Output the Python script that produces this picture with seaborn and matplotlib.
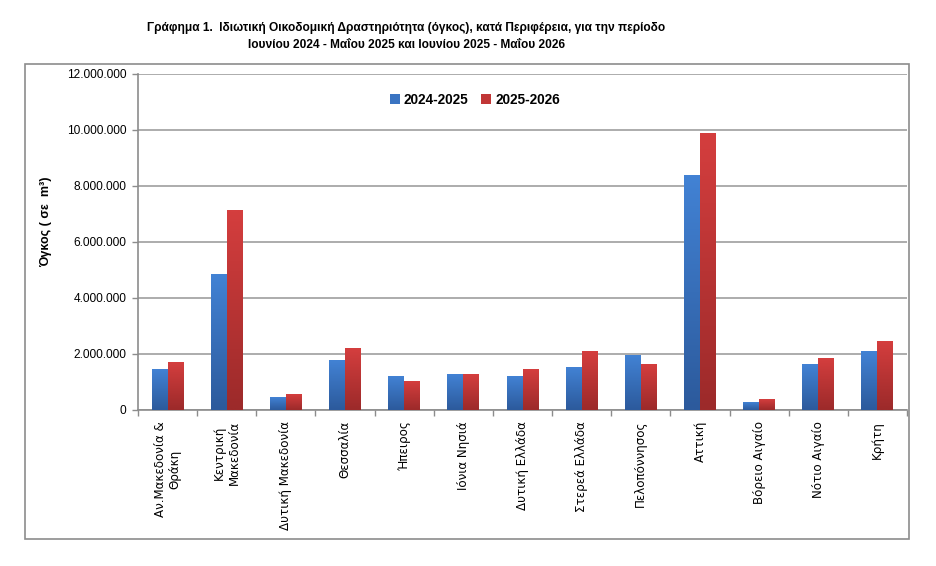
import numpy as np
import pandas as pd
import matplotlib
matplotlib.use("Agg")
import matplotlib.pyplot as plt
from matplotlib.ticker import FuncFormatter, FixedLocator
from matplotlib.patches import Rectangle, Patch
import seaborn as sns

regions = ["Αν.Μακεδονία &\nΘράκη", "Κεντρική\nΜακεδονία", "Δυτική Μακεδονία", "Θεσσαλία",
           "Ήπειρος", "Ιόνια Νησιά", "Δυτική Ελλάδα", "Στερεά Ελλάδα", "Πελοπόννησος",
           "Αττική", "Βόρειο Αιγαίο", "Νότιο Αιγαίο", "Κρήτη"]
vol_2024_2025 = [1460000, 4850000, 430000, 1780000, 1210000, 1280000, 1180000,
                 1530000, 1960000, 8350000, 250000, 1610000, 2100000]
vol_2025_2026 = [1710000, 7130000, 570000, 2180000, 1000000, 1280000, 1460000,
                 2070000, 1640000, 9850000, 390000, 1820000, 2460000]
periods = ["2024-2025", "2025-2026"]
yticks = [0, 2000000, 4000000, 6000000, 8000000, 10000000, 12000000]

title = ("Γράφημα 1.  Ιδιωτική Οικοδομική Δραστηριότητα (όγκος), κατά Περιφέρεια, για την περίοδο\n"
         "Ιουνίου 2024 - Μαΐου 2025 και Ιουνίου 2025 - Μαΐου 2026")
ylabel = "Όγκος ( σε  m³)"

df = pd.DataFrame({
    "region": regions * 2,
    "period": [periods[0]] * len(regions) + [periods[1]] * len(regions),
    "value": vol_2024_2025 + vol_2025_2026,
})

sns.set_theme(style="white")
plt.rcParams["font.family"] = ["Liberation Sans", "DejaVu Sans"]
plt.rcParams["text.color"] = "black"
plt.rcParams["xtick.color"] = "black"
plt.rcParams["ytick.color"] = "black"

W, H = 936, 566
fig = plt.figure(figsize=(W / 100, H / 100), dpi=100)
L, R, T, B = 138, 907, 73.7, 410
ax = fig.add_axes([L / W, 1 - B / H, (R - L) / W, (B - T) / H])

blue_top, blue_bot = np.array([0x42, 0x82, 0xd4]) / 255, np.array([0x2c, 0x5a, 0x9c]) / 255
red_top, red_bot = np.array([0xd4, 0x3e, 0x3e]) / 255, np.array([0x9c, 0x2a, 0x2a]) / 255

sns.barplot(data=df, x="region", y="value", hue="period", palette=["#3a74c2", "#c13636"],
            width=0.54, saturation=1, legend=False, ax=ax, zorder=2)

# gradient fill on each bar
for p in list(ax.patches):
    fc = p.get_facecolor()
    if fc[0] < 0.5:
        top, bot = blue_top, blue_bot
    else:
        top, bot = red_top, red_bot
    x0, y0 = p.get_x(), p.get_y()
    w, h = p.get_width(), p.get_height()
    if h <= 0:
        continue
    grad = np.linspace(0, 1, 64)[:, None]
    img = top[None, None, :] * (1 - grad[:, :, None]) + bot[None, None, :] * grad[:, :, None]
    ax.imshow(img, extent=(x0, x0 + w, y0, y0 + h), aspect="auto", zorder=3,
              interpolation="bilinear", origin="upper")
    p.set_edgecolor("none")

n = len(regions)
ax.set_xlim(-0.5, n - 0.5)
ax.set_ylim(0, 12000000)
ax.set_yticks(yticks)
ax.yaxis.set_major_formatter(FuncFormatter(lambda v, _: f"{int(v):,}".replace(",", ".")))
ax.grid(axis="y", color="#a6a6a6", linewidth=1.3, zorder=0)
ax.set_axisbelow(True)

ax.set_xlabel("")
ax.set_ylabel("")
ax.set_xticks(range(n))
ax.set_xticklabels(regions, rotation=90, fontsize=8.6, va="top", ha="center",
                   multialignment="center", family=["DejaVu Sans"], color="black")
ax.xaxis.set_minor_locator(FixedLocator(np.arange(-0.5, n, 1.0)))
ax.tick_params(axis="x", which="major", length=0, pad=8)
ax.tick_params(axis="x", which="minor", length=4, width=1, color="#8c8c8c", bottom=True)
ax.tick_params(axis="y", which="major", length=4, width=1, color="#8c8c8c", left=True,
               labelsize=8.6, pad=4.5, labelcolor="black")

for s in ["top", "right"]:
    ax.spines[s].set_visible(False)
for s in ["left", "bottom"]:
    ax.spines[s].set_color("#8c8c8c")
    ax.spines[s].set_linewidth(1.2)

# legend
handles = [Patch(facecolor="#3a74c2", edgecolor="none"), Patch(facecolor="#c13636", edgecolor="none")]
leg = ax.legend(handles, periods, loc="center", bbox_to_anchor=(0.438, 0.922), ncol=2,
                frameon=False, prop={"weight": "bold", "size": 9.8},
                handlelength=0.75, handleheight=0.75, handletextpad=0.3, columnspacing=0.9)

# outer frame
fig.patches.append(Rectangle((25 / W, 1 - 539 / H), (909 - 25) / W, (539 - 64) / H,
                             transform=fig.transFigure, fill=False, edgecolor="#8c8c8c",
                             linewidth=1.2))

fig.text(406 / W, 1 - 36.5 / H, title, ha="center", va="center", fontsize=8.6,
         fontweight="bold", linespacing=1.55)
fig.text(46 / W, 1 - 222 / H, ylabel, rotation=90, ha="center", va="center",
         fontsize=9, fontweight="bold")

fig.savefig("out.png", dpi=100)
